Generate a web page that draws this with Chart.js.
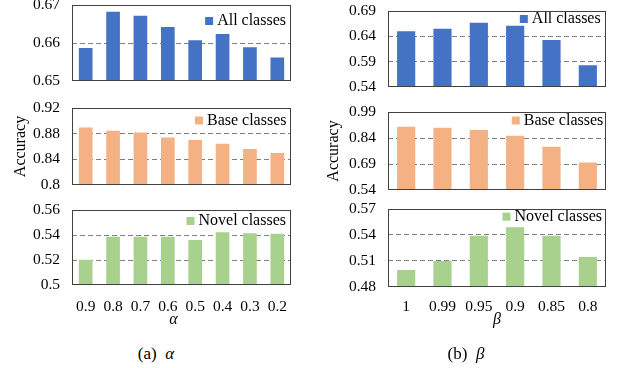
<!DOCTYPE html>
<html>
<head>
<meta charset="utf-8">
<script src="https://cdn.jsdelivr.net/npm/chart.js@4.4.1/dist/chart.umd.min.js"></script>
<style>
  html, body { margin: 0; padding: 0; background: #fff; }
  body { position: relative; width: 618px; height: 368px; overflow: hidden; font-family: "Liberation Serif", serif; }
  canvas { position: absolute; }
  .cap { position: absolute; top: 354px; font-size: 17px; color: #000; transform: translate(-50%, -50%); white-space: nowrap; }
</style>
</head>
<body>
<canvas id="aAll"></canvas>
<canvas id="aBase"></canvas>
<canvas id="aNovel"></canvas>
<canvas id="bAll"></canvas>
<canvas id="bBase"></canvas>
<canvas id="bNovel"></canvas>
<div class="cap" style="left:156px">(a)&nbsp;&nbsp;<i>α</i></div>
<div class="cap" style="left:466px">(b)&nbsp;&nbsp;<i>β</i></div>

<script>
// === DATOS ===
const alphaLabels = ['0.9', '0.8', '0.7', '0.6', '0.5', '0.4', '0.3', '0.2'];
const alphaAll   = [0.6587, 0.6682, 0.6672, 0.6642, 0.6607, 0.6624, 0.6589, 0.6562];
const alphaBase  = [0.8898, 0.8846, 0.8820, 0.8742, 0.8700, 0.8644, 0.8560, 0.8500];
const alphaNovel = [0.5203, 0.5386, 0.5386, 0.5386, 0.5360, 0.5423, 0.5415, 0.5410];

const betaLabels = ['1', '0.99', '0.95', '0.9', '0.85', '0.8'];
const betaAll   = [0.650, 0.655, 0.667, 0.661, 0.633, 0.583];
const betaBase  = [0.905, 0.899, 0.886, 0.853, 0.789, 0.698];
const betaNovel = [0.4995, 0.510, 0.539, 0.549, 0.539, 0.5145];

const alphaAllTicks   = [0.65, 0.66, 0.67];
const alphaBaseTicks  = [0.8, 0.84, 0.88, 0.92];
const alphaNovelTicks = [0.5, 0.52, 0.54, 0.56];
const betaAllTicks    = [0.54, 0.59, 0.64, 0.69];
const betaBaseTicks   = [0.54, 0.69, 0.84, 0.99];
const betaNovelTicks  = [0.48, 0.51, 0.54, 0.57];

const seriesNames = ['All classes', 'Base classes', 'Novel classes'];
const seriesColors = ['#4472C4', '#F4B183', '#A9D18E'];

Chart.defaults.font.family = '"Liberation Serif", "Times New Roman", serif';
Chart.defaults.color = '#000';

// === LEYENDA DENTRO DEL ÁREA + MARCO ===
const boxLegend = {
  id: 'boxLegend',
  afterDatasetsDraw(chart, args, opts) {
    const { ctx, chartArea: a } = chart;
    const ds = chart.data.datasets[0];
    ctx.save();
    ctx.font = '16px "Liberation Serif", serif';
    ctx.textBaseline = 'middle';
    ctx.textAlign = 'right';
    const tx = a.right - opts.right, ty = a.top + opts.top;
    const w = ctx.measureText(ds.label).width;
    ctx.fillStyle = '#000';
    ctx.fillText(ds.label, tx, ty);
    ctx.fillStyle = ds.backgroundColor;
    ctx.fillRect(tx - w - 12, ty - 4, 8, 8);
    ctx.strokeStyle = '#404040';
    ctx.lineWidth = 1;
    ctx.strokeRect(a.left + 0.5, a.top + 0.5, a.width - 1, a.height - 1);
    ctx.restore();
  }
};

// === GRÁFICO ===
function makeChart(id, cfg) {
  const el = document.getElementById(id);
  el.width = cfg.w; el.height = cfg.h;
  el.style.left = cfg.x + 'px'; el.style.top = cfg.y + 'px';
  el.style.width = cfg.w + 'px'; el.style.height = cfg.h + 'px';
  const ticks = cfg.ticks;
  const last = ticks.length - 1;
  const showX = !!cfg.xTitle;

  return new Chart(el, {
    type: 'bar',
    data: {
      labels: cfg.labels,
      datasets: [{
        label: cfg.name,
        data: cfg.values,
        backgroundColor: cfg.color,
        borderWidth: 0,
        barPercentage: 0.5,
        categoryPercentage: 1
      }]
    },
    options: {
      responsive: false,
      animation: false,
      devicePixelRatio: 1,
      layout: { padding: { top: 10, bottom: showX ? 0 : 10, left: 0, right: 4 } },
      plugins: {
        legend: { display: false },
        tooltip: { enabled: false },
        boxLegend: cfg.legend
      },
      scales: {
        x: {
          display: showX,
          grid: { display: false },
          border: { display: false },
          ticks: { font: { size: 15.5 }, padding: cfg.xPad || 0, maxRotation: 0, autoSkip: false },
          title: {
            display: showX,
            text: cfg.xTitle || '',
            font: { size: 16, style: 'italic' },
            padding: { top: 0, bottom: cfg.xTitlePad || 0 }
          },
          afterFit(s) { if (showX) s.height = 45; }
        },
        y: {
          min: ticks[0],
          max: ticks[last],
          afterBuildTicks(s) { s.ticks = ticks.map(v => ({ value: v })); },
          afterFit(s) { s.width = cfg.axisW; },
          grid: {
            drawTicks: true,
            tickLength: 12,
            tickColor: 'rgba(0,0,0,0)',
            lineWidth: 1,
            color: c => (c.index === 0 || c.index === last) ? 'rgba(0,0,0,0)' : '#7f7f7f'
          },
          border: { display: false, dash: [5, 3] },
          ticks: { font: { size: 15.5 }, padding: 0, autoSkip: false, callback: v => String(v) },
          title: {
            display: !!cfg.yTitle,
            text: cfg.yTitle || '',
            font: { size: 16 },
            padding: { top: cfg.yTitlePad || 0, bottom: 0 }
          }
        }
      }
    },
    plugins: [boxLegend]
  });
}

// === PANEL (a) α ===
makeChart('aAll', { x: 0, y: -5, w: 295, h: 96, axisW: 72, labels: alphaLabels, values: alphaAll,
  ticks: alphaAllTicks, name: seriesNames[0], color: seriesColors[0], legend: { top: 16, right: 5 } });
makeChart('aBase', { x: 0, y: 98, w: 295, h: 97, axisW: 72, labels: alphaLabels, values: alphaBase,
  ticks: alphaBaseTicks, name: seriesNames[1], color: seriesColors[1], legend: { top: 12.5, right: 4.5 },
  yTitle: 'Accuracy', yTitlePad: 11 });
// el α del eje queda un poco a la izquierda del centro en el original
makeChart('aNovel', { x: 0, y: 200, w: 295, h: 130, axisW: 72, labels: alphaLabels, values: alphaNovel,
  ticks: alphaNovelTicks, name: seriesNames[2], color: seriesColors[2], legend: { top: 11, right: 5 },
  xTitle: 'α\u2003', xTitlePad: 1, xPad: 5 });

// === PANEL (b) β ===
makeChart('bAll', { x: 310, y: 1, w: 300, h: 96, axisW: 78, labels: betaLabels, values: betaAll,
  ticks: betaAllTicks, name: seriesNames[0], color: seriesColors[0], legend: { top: 8, right: 5.3 } });
makeChart('bBase', { x: 310, y: 102, w: 300, h: 98, axisW: 78, labels: betaLabels, values: betaBase,
  ticks: betaBaseTicks, name: seriesNames[1], color: seriesColors[1], legend: { top: 8.5, right: 2.7 },
  yTitle: 'Accuracy', yTitlePad: 14 });
makeChart('bNovel', { x: 310, y: 199, w: 300, h: 133, axisW: 78, labels: betaLabels, values: betaNovel,
  ticks: betaNovelTicks, name: seriesNames[2], color: seriesColors[2], legend: { top: 7.7, right: 4 },
  xTitle: 'β', xTitlePad: 2.4, xPad: 3 });
</script>
</body>
</html>
